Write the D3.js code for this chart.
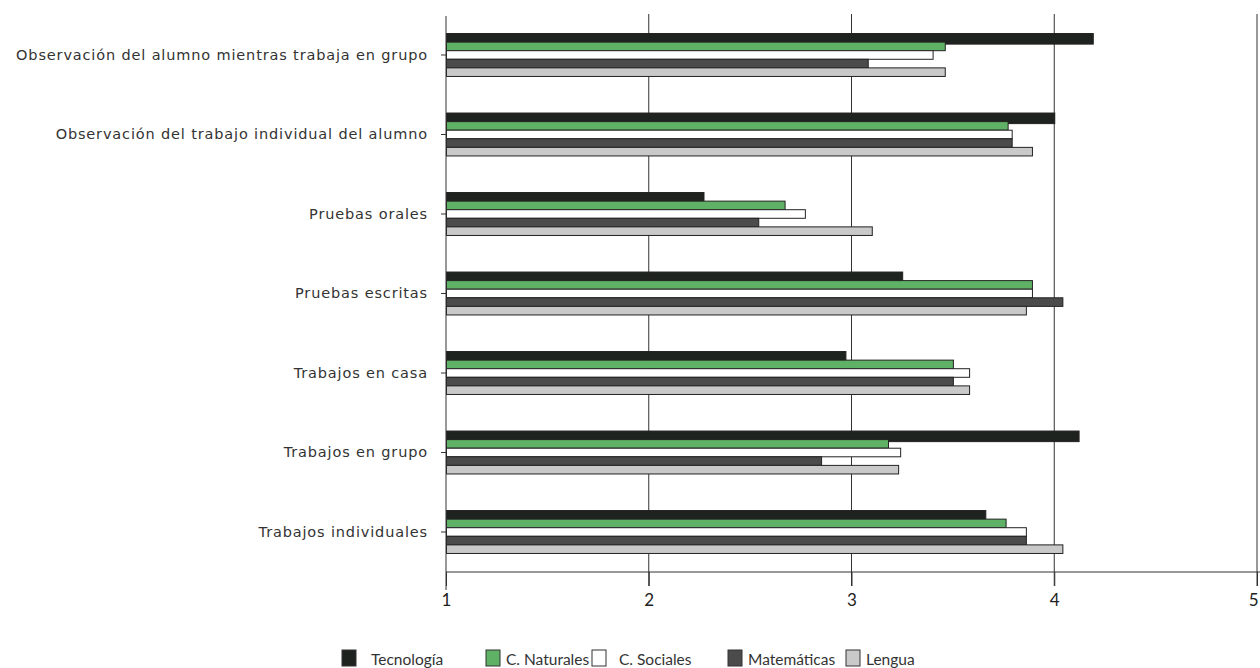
<!DOCTYPE html>
<html><head><meta charset="utf-8">
<script src="https://cdn.jsdelivr.net/npm/d3@7"></script>
<style>body{margin:0;background:#fff}svg{display:block}</style>
</head><body>
<svg id="c" width="1260" height="668"></svg>
<script>
const categories = [
  "Observación del alumno mientras trabaja en grupo",
  "Observación del trabajo individual del alumno",
  "Pruebas orales",
  "Pruebas escritas",
  "Trabajos en casa",
  "Trabajos en grupo",
  "Trabajos individuales"
];
const seriesNames = ["Tecnología","C. Naturales","C. Sociales","Matemáticas","Lengua"];
const tecnologia  = [4.19, 4.00, 2.27, 3.25, 2.97, 4.12, 3.66];
const naturales   = [3.46, 3.77, 2.67, 3.89, 3.50, 3.18, 3.76];
const sociales    = [3.40, 3.79, 2.77, 3.89, 3.58, 3.24, 3.86];
const matematicas = [3.08, 3.79, 2.54, 4.04, 3.50, 2.85, 3.86];
const lengua      = [3.46, 3.89, 3.10, 3.86, 3.58, 3.23, 4.04];
const xTicks = [1,2,3,4,5];

const seriesValues = [tecnologia, naturales, sociales, matematicas, lengua];
const colors = ["#1e2320","#5fb265","#ffffff","#4b4b4b","#c9c9c9"];

const svg = d3.select("#c");
const x = d3.scaleLinear().domain([1,5]).range([446,1257]);
const y = d3.scaleBand().domain(categories).range([15,572]).paddingInner(0.46).paddingOuter(0.233);
const ys = d3.scaleBand().domain(seriesNames).range([0,y.bandwidth()]);

// gridlines
svg.append("g").selectAll("line").data(xTicks.slice(1)).join("line")
  .attr("x1",d=>x(d)).attr("x2",d=>x(d)).attr("y1",14).attr("y2",586)
  .attr("stroke","#333").attr("stroke-width",1);

// bars
const g = svg.append("g");
seriesNames.forEach((s,si)=>{
  g.selectAll(null).data(categories).join("rect")
    .attr("x",x(1)+0.5)
    .attr("y",(c)=>y(c)+ys(s))
    .attr("width",(c,i)=>x(seriesValues[si][i])-x(1))
    .attr("height",ys.bandwidth()+ (si===0?2:0))
    .attr("fill",colors[si]).attr("stroke","#222").attr("stroke-width",1);
});

// bottom axis
const xa = svg.append("g").attr("transform","translate(0,572)")
  .call(d3.axisBottom(x).tickValues(xTicks).tickFormat(d3.format("d")).tickSize(14).tickPadding(8));
xa.select(".domain").attr("stroke","#333").attr("d","M446,0H1260");
xa.selectAll(".tick line").attr("stroke","#333");
xa.selectAll(".tick text").style("font-size","17px").style("fill","#222").style("font-family","Lato,sans-serif");
xa.selectAll(".tick text").filter(d=>d===5).attr("text-anchor","end").attr("dx",1);

// left axis
const ya = svg.append("g").attr("transform","translate(446,0)")
  .call(d3.axisLeft(y).tickSize(5).tickPadding(13));
ya.select(".domain").attr("stroke","#333").attr("d","M0,16V590");
ya.selectAll(".tick line").attr("stroke","#333");
ya.selectAll(".tick text").style("font-size","14.5px").style("letter-spacing","0.85px")
  .style("fill","#333").style("font-family","'DejaVu Sans',sans-serif");

// legend
const legendX = [342,486,592,728,846];
const lg = svg.append("g");
seriesNames.forEach((s,i)=>{
  lg.append("rect").attr("x",legendX[i]).attr("y",650).attr("width",14).attr("height",16)
    .attr("fill",colors[i]).attr("stroke","#333").attr("stroke-width",1);
  lg.append("text").attr("x",legendX[i] + (i===0?29:(i===2?27:20))).attr("y",665)
    .style("font-size","15.5px").style("font-family","Lato,sans-serif").style("fill","#333").text(s);
});
</script>
</body></html>
